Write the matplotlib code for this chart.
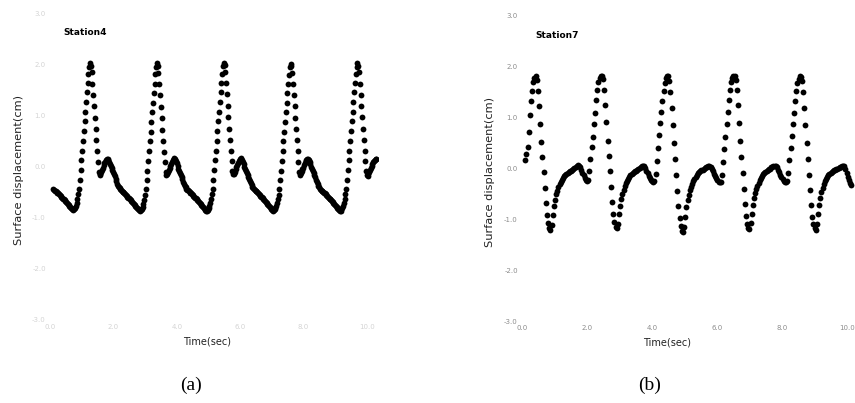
import matplotlib.pyplot as plt
import numpy as np

# Station4 (panel a): evenly sampled record
sta4_t0 = 0.11
sta4_dt = 0.0251
sta4_disp = [
    -0.43, -0.45, -0.47, -0.48, -0.50, -0.51, -0.52, -0.54, -0.56, -0.58,
    -0.60, -0.62, -0.63, -0.64, -0.66, -0.68, -0.70, -0.72, -0.74, -0.76,
    -0.78, -0.80, -0.82, -0.83, -0.84, -0.85, -0.84, -0.82, -0.78, -0.72,
    -0.64, -0.54, -0.43, -0.26, -0.07, 0.12, 0.31, 0.50, 0.69, 0.88,
    1.07, 1.26, 1.45, 1.63, 1.80, 1.95,
    # wave 1
    2.02, 1.97, 1.84, 1.62, 1.40, 1.18, 0.95, 0.73, 0.51, 0.30, 0.09, -0.10, -0.16,
    -0.14, -0.10, -0.06, -0.02, 0.02, 0.06, 0.09, 0.12, 0.14, 0.15, 0.13, 0.09,
    0.05, 0.01, -0.03, -0.07, -0.11, -0.15, -0.19, -0.24, -0.29, -0.34, -0.38,
    -0.40, -0.42, -0.44, -0.46, -0.47, -0.49, -0.50, -0.51, -0.53, -0.55, -0.57,
    -0.59, -0.61, -0.62, -0.63, -0.65, -0.67, -0.69, -0.71, -0.73, -0.75, -0.77,
    -0.79, -0.81, -0.83, -0.84, -0.85, -0.86, -0.85, -0.83, -0.79, -0.73, -0.65,
    -0.55, -0.44, -0.27, -0.08, 0.11, 0.30, 0.49, 0.68, 0.87, 1.06, 1.25, 1.44, 1.62, 1.80, 1.95,
    # wave 2
    2.03, 1.96, 1.82, 1.61, 1.39, 1.17, 0.95, 0.72, 0.50, 0.29, 0.08, -0.11, -0.17,
    -0.15, -0.11, -0.07, -0.03, 0.01, 0.05, 0.09, 0.12, 0.14, 0.16, 0.14, 0.10,
    0.06, 0.01, -0.04, -0.08, -0.12, -0.16, -0.20, -0.25, -0.30, -0.35, -0.39,
    -0.41, -0.43, -0.45, -0.46, -0.48, -0.49, -0.51, -0.52, -0.54, -0.56, -0.58,
    -0.60, -0.61, -0.62, -0.64, -0.66, -0.68, -0.70, -0.72, -0.74, -0.76, -0.78,
    -0.80, -0.82, -0.84, -0.85, -0.86, -0.86, -0.85, -0.82, -0.78, -0.72, -0.64,
    -0.54, -0.43, -0.26, -0.07, 0.12, 0.31, 0.50, 0.69, 0.88, 1.07, 1.26, 1.45, 1.63, 1.81, 1.96,
    # wave 3
    2.02, 1.98, 1.85, 1.63, 1.41, 1.19, 0.96, 0.74, 0.52, 0.31, 0.10, -0.09, -0.15,
    -0.14, -0.10, -0.05, -0.01, 0.03, 0.07, 0.10, 0.13, 0.15, 0.16, 0.13, 0.08,
    0.04, 0.00, -0.04, -0.08, -0.12, -0.16, -0.20, -0.24, -0.29, -0.33, -0.37,
    -0.40, -0.42, -0.44, -0.45, -0.47, -0.48, -0.50, -0.52, -0.53, -0.55, -0.57,
    -0.59, -0.60, -0.62, -0.63, -0.65, -0.67, -0.69, -0.71, -0.73, -0.76, -0.78,
    -0.80, -0.82, -0.84, -0.85, -0.86, -0.85, -0.84, -0.82, -0.78, -0.72, -0.64,
    -0.55, -0.44, -0.27, -0.08, 0.11, 0.30, 0.49, 0.68, 0.87, 1.06, 1.25, 1.44, 1.62, 1.79, 1.94,
    # wave 4
    2.01, 1.97, 1.83, 1.62, 1.40, 1.18, 0.95, 0.73, 0.51, 0.30, 0.09, -0.10, -0.16,
    -0.13, -0.09, -0.05, -0.02, 0.02, 0.06, 0.10, 0.13, 0.15, 0.15, 0.12, 0.08,
    0.04, 0.00, -0.04, -0.08, -0.12, -0.16, -0.21, -0.26, -0.31, -0.35, -0.39,
    -0.41, -0.43, -0.45, -0.47, -0.48, -0.50, -0.51, -0.52, -0.54, -0.56, -0.58,
    -0.60, -0.61, -0.63, -0.64, -0.66, -0.68, -0.70, -0.72, -0.74, -0.76, -0.78,
    -0.80, -0.82, -0.84, -0.85, -0.86, -0.86, -0.84, -0.81, -0.77, -0.71, -0.63,
    -0.54, -0.43, -0.26, -0.07, 0.12, 0.31, 0.50, 0.69, 0.88, 1.07, 1.26, 1.45, 1.63, 1.80, 1.95,
    # wave 5 (cut off)
    2.02, 1.97, 1.84, 1.62, 1.40, 1.18, 0.96, 0.74, 0.52, 0.31, 0.10, -0.09, -0.17,
    -0.18, -0.15, -0.11, -0.07, -0.03, 0.01, 0.05, 0.08, 0.11, 0.13, 0.15, 0.15,
]

# Station7 (panel b)
sta7_t0 = 0.10
sta7_dt = 0.0352
sta7_disp = [
    0.16, 0.28, 0.42, 0.72, 1.06, 1.33, 1.53, 1.70, 1.79,
    # wave 1
    1.82, 1.74, 1.52, 1.22, 0.88, 0.52, 0.22, -0.06, -0.38, -0.68, -0.92, -1.08, -1.18, -1.21,
    -1.12, -0.92, -0.74, -0.61, -0.51, -0.44, -0.37, -0.31, -0.26, -0.22, -0.18, -0.15, -0.12, -0.10,
    -0.08, -0.06, -0.05, -0.04, -0.02, -0.01, 0.01, 0.03, 0.05, 0.06, 0.05, 0.02, -0.03, -0.08, -0.13,
    -0.18, -0.22, -0.24, -0.22, -0.05, 0.18, 0.42, 0.62, 0.88, 1.10, 1.35, 1.55, 1.70, 1.78, 1.81,
    # wave 2
    1.81, 1.76, 1.55, 1.25, 0.92, 0.55, 0.24, -0.05, -0.36, -0.66, -0.90, -1.06, -1.15, -1.18,
    -1.10, -0.90, -0.73, -0.60, -0.50, -0.42, -0.35, -0.29, -0.24, -0.20, -0.16, -0.13, -0.11, -0.09,
    -0.07, -0.05, -0.04, -0.02, -0.01, 0.01, 0.02, 0.04, 0.05, 0.04, 0.01, -0.04, -0.09, -0.14, -0.18,
    -0.22, -0.25, -0.27, -0.25, -0.10, 0.15, 0.40, 0.65, 0.90, 1.12, 1.33, 1.52, 1.68, 1.78, 1.82,
    # wave 3
    1.82, 1.72, 1.50, 1.20, 0.85, 0.50, 0.18, -0.12, -0.44, -0.74, -0.98, -1.14, -1.22, -1.24,
    -1.15, -0.95, -0.76, -0.62, -0.52, -0.43, -0.36, -0.30, -0.25, -0.20, -0.16, -0.12, -0.09, -0.07,
    -0.05, -0.03, -0.02, 0.00, 0.01, 0.02, 0.03, 0.04, 0.05, 0.03, 0.00, -0.05, -0.10, -0.15, -0.19,
    -0.23, -0.26, -0.27, -0.26, -0.12, 0.12, 0.38, 0.62, 0.88, 1.12, 1.35, 1.55, 1.70, 1.78, 1.81,
    # wave 4
    1.82, 1.75, 1.54, 1.24, 0.90, 0.55, 0.22, -0.08, -0.40, -0.70, -0.94, -1.10, -1.17, -1.19,
    -1.08, -0.90, -0.72, -0.58, -0.48, -0.40, -0.34, -0.28, -0.23, -0.18, -0.14, -0.11, -0.08, -0.06,
    -0.04, -0.03, -0.01, 0.00, 0.02, 0.03, 0.04, 0.05, 0.04, 0.02, -0.02, -0.07, -0.12, -0.17, -0.21,
    -0.24, -0.26, -0.27, -0.24, -0.08, 0.16, 0.40, 0.64, 0.88, 1.10, 1.32, 1.52, 1.68, 1.77, 1.81,
    # wave 5 (cut off)
    1.80, 1.72, 1.50, 1.20, 0.86, 0.50, 0.18, -0.12, -0.42, -0.72, -0.95, -1.10, -1.18, -1.21,
    -1.10, -0.90, -0.72, -0.58, -0.47, -0.38, -0.31, -0.25, -0.20, -0.16, -0.13, -0.10, -0.08, -0.06,
    -0.04, -0.03, -0.02, -0.01, 0.00, 0.01, 0.02, 0.03, 0.04, 0.05, 0.04, 0.00, -0.08, -0.16, -0.22,
    -0.28, -0.33,
]

yticks = [-3.0, -2.0, -1.0, 0.0, 1.0, 2.0, 3.0]
xticks = [0, 2, 4, 6, 8, 10]
xtick_labels = ['0.0', '2.0', '4.0', '6.0', '8.0', '10.0']

t4 = sta4_t0 + sta4_dt * np.arange(len(sta4_disp))
t7 = sta7_t0 + sta7_dt * np.arange(len(sta7_disp))

fig = plt.figure(figsize=(8.55, 4.03), dpi=100)
ax1 = fig.add_axes([50 / 855, 1 - 320 / 403, 328 / 855, 307 / 403])
ax2 = fig.add_axes([522 / 855, 1 - 321 / 403, 333 / 855, 305 / 403])

panels = [
    (ax1, t4, sta4_disp, 'Station4', 10.35, '#d4d4d4', 0.48),
    (ax2, t7, sta7_disp, 'Station7', 10.25, '#8c8c8c', 0.435),
]
for ax, t, d, name, xmax, tcol, xlab_x in panels:
    ax.plot(t, d, 'o', color='black', ms=4.2, mew=0)
    ax.set_xlim(0, xmax)
    ax.set_ylim(-3, 3)
    ax.set_xticks(xticks)
    ax.set_xticklabels(xtick_labels)
    ax.set_yticks(yticks)
    ax.set_yticklabels(['%.1f' % v for v in yticks])
    ax.tick_params(length=0, labelsize=5, labelcolor=tcol, pad=3)
    for s in ax.spines.values():
        s.set_visible(False)
    ax.set_xlabel('Time(sec)', fontsize=7, color='#222222')
    ax.xaxis.set_label_coords(xlab_x, -0.055)
    ax.set_ylabel('Surface displacement(cm)', fontsize=8.2, color='#222222')
    ax.yaxis.set_label_coords(-0.08, 0.49)
    ax.text(0.04, 0.935, name, transform=ax.transAxes, fontsize=6.5,
            fontweight='bold', va='center')

fig.text(191 / 855, 1 - 385 / 403, '(a)', ha='center', va='center',
         fontsize=14, family='Liberation Serif')
fig.text(650 / 855, 1 - 385 / 403, '(b)', ha='center', va='center',
         fontsize=14, family='Liberation Serif')

fig.savefig('out.png', dpi=100)
